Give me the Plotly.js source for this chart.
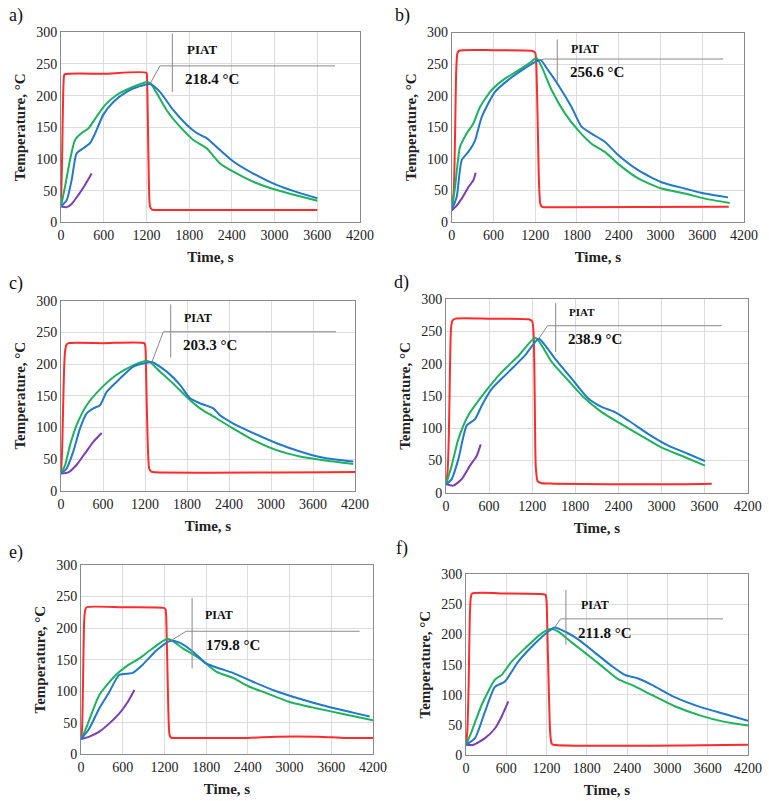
<!DOCTYPE html>
<html>
<head>
<meta charset="utf-8">
<script src="https://cdn.plot.ly/plotly-3.0.1.min.js"></script>
<style>
  html, body { margin: 0; padding: 0; background: #fff; }
  #chart { width: 769px; height: 801px; }
</style>
</head>
<body>
<div id="chart"></div>
<script>
// ---- Temperature histories (time in s, temperature in °C) ----
// Panel a
const aRedT = [0, 15, 30, 40, 48, 600, 1200, 1208, 1220, 1235, 1250, 1280, 1500, 3600];
const aRedY = [25, 100, 200, 229, 233.5, 234.5, 236, 228, 160, 60, 25, 20, 19.5, 19.5];
const aGreenT = [0, 56, 126, 197, 290, 384, 501, 618, 782, 1016, 1210, 1260, 1344, 1484, 1671, 1859, 2046, 2233, 2421, 2701, 3029, 3357, 3600];
const aGreenY = [25, 56, 98, 130, 141, 148, 167, 185, 201, 214, 221.5, 219, 204, 177, 151, 130, 117, 93, 80, 64, 51, 41, 34];
const aBlueT = [0, 80, 150, 220, 314, 407, 478, 595, 735, 922, 1110, 1250, 1390, 1578, 1765, 1906, 2046, 2233, 2421, 2701, 3029, 3357, 3600];
const aBlueY = [25, 35, 67, 109, 117, 125, 140, 170, 190, 206, 215, 218.4, 206, 177, 154, 141, 133, 114, 96, 77, 59, 46, 38];
const aPurpleT = [0, 80, 150, 243, 337, 431];
const aPurpleY = [25, 24, 29, 43, 59, 77];

// Panel b
const bRedT = [0, 30, 50, 65, 80, 100, 600, 1150, 1200, 1215, 1235, 1255, 1275, 1300, 1500, 3980];
const bRedY = [18, 50, 150, 240, 266, 271, 272, 271, 268, 250, 160, 60, 28, 24, 23.5, 24];
const bGreenT = [0, 48, 120, 215, 311, 407, 574, 765, 957, 1148, 1215, 1292, 1435, 1627, 1818, 2009, 2200, 2392, 2679, 3014, 3349, 3636, 3995];
const bGreenY = [18, 55, 119, 140, 156, 182, 209, 227, 240, 254, 260, 246, 209, 172, 145, 124, 111, 92, 69, 53, 45, 37, 30];
const bBlueT = [0, 72, 144, 239, 335, 431, 622, 813, 1005, 1196, 1275, 1387, 1531, 1722, 1866, 2009, 2200, 2392, 2679, 3014, 3349, 3636, 3971];
const bBlueY = [18, 40, 98, 111, 129, 166, 206, 225, 240, 253, 256.6, 240, 217, 182, 151, 140, 127, 106, 82, 63, 53, 45, 39];
const bPurpleT = [0, 72, 144, 239, 311, 344];
const bPurpleY = [18, 26, 37, 55, 66, 78];

// Panel c
const cRedT = [0, 15, 30, 45, 60, 80, 110, 600, 1190, 1205, 1215, 1235, 1260, 1290, 1350, 4200];
const cRedY = [27, 60, 130, 195, 222, 231, 233, 233, 233, 228, 190, 90, 35, 30, 29, 29.5];
const cGreenT = [0, 57, 129, 224, 367, 557, 795, 1033, 1240, 1414, 1605, 1795, 1986, 2224, 2462, 2748, 3081, 3414, 3748, 4176];
const cGreenY = [27, 40, 72, 104, 135, 160, 183, 198, 205, 188, 169, 148, 130, 114, 98, 80, 64, 54, 48, 42];
const cBlueT = [0, 81, 176, 271, 367, 462, 557, 652, 843, 1033, 1224, 1300, 1510, 1700, 1843, 1986, 2176, 2271, 2462, 2748, 3081, 3414, 3748, 4176];
const cBlueY = [27, 35, 62, 98, 122, 130, 135, 156, 177, 196, 202, 203.3, 188, 167, 146, 138, 130, 119, 106, 91, 75, 62, 52, 46];
const cPurpleT = [0, 105, 224, 343, 462, 581];
const cPurpleY = [27, 29, 41, 59, 77, 91];

// Panel d
const dRedT = [0, 20, 40, 55, 70, 90, 130, 600, 1150, 1200, 1220, 1235, 1250, 1275, 1320, 1500, 3000, 3700];
const dRedY = [13, 30, 90, 190, 255, 267, 270, 270, 269, 266, 245, 150, 40, 18, 15, 14, 13, 14];
const dGreenT = [0, 79, 172, 311, 543, 775, 1007, 1245, 1471, 1703, 1935, 2167, 2399, 2678, 3003, 3328, 3606];
const dGreenY = [13, 42, 83, 120, 156, 187, 212, 240, 203, 174, 146, 125, 109, 91, 70, 55, 42];
const dBlueT = [0, 79, 172, 288, 404, 497, 636, 868, 1100, 1290, 1378, 1517, 1749, 1981, 2167, 2353, 2539, 2817, 3096, 3374, 3606];
const dBlueY = [13, 21, 52, 104, 114, 135, 161, 187, 213, 238.9, 229, 208, 177, 146, 133, 125, 112, 91, 73, 60, 49];
const dPurpleT = [0, 102, 218, 334, 427, 483];
const dPurpleY = [13, 11, 21, 42, 57, 75];

// Panel e
const eRedT = [0, 15, 30, 45, 60, 80, 600, 1190, 1215, 1230, 1250, 1275, 1300, 1400, 2400, 2800, 3400, 3800, 4200];
const eRedY = [24, 40, 120, 210, 228, 233, 233, 232, 230, 200, 100, 30, 26, 26, 26, 28, 28, 26, 26];
const eGreenT = [0, 72, 264, 504, 648, 840, 1032, 1250, 1464, 1704, 1944, 2184, 2424, 2664, 2999, 3384, 3768, 4200];
const eGreenY = [24, 41, 94, 126, 139, 152, 168, 183, 168, 152, 131, 121, 107, 97, 83, 73, 64, 54];
const eBlueT = [0, 120, 264, 408, 552, 744, 888, 1080, 1290, 1416, 1608, 1800, 1992, 2184, 2472, 2808, 3144, 3528, 3912, 4152];
const eBlueY = [24, 41, 73, 99, 126, 129, 142, 164, 179.8, 177, 163, 144, 136, 129, 115, 100, 88, 76, 66, 60];
const ePurpleT = [0, 120, 264, 408, 552, 672, 768];
const ePurpleY = [24, 28, 36, 49, 65, 83, 102];

// Panel f
const fRedT = [0, 20, 40, 55, 70, 90, 600, 1150, 1185, 1200, 1215, 1235, 1255, 1275, 1300, 4200];
const fRedY = [17, 40, 120, 220, 260, 268, 268, 267, 266, 255, 190, 100, 35, 19, 17, 17];
const fGreenT = [0, 84, 233, 431, 531, 679, 878, 1126, 1270, 1374, 1572, 1770, 2018, 2266, 2514, 2762, 3109, 3506, 3853, 4200];
const fGreenY = [17, 39, 83, 125, 133, 155, 177, 202, 209, 205, 187, 170, 148, 126, 114, 100, 81, 65, 55, 49];
const fBlueT = [0, 134, 283, 431, 580, 778, 1027, 1225, 1320, 1473, 1671, 1919, 2167, 2365, 2564, 2762, 3109, 3506, 3853, 4200];
const fBlueY = [17, 28, 72, 113, 122, 155, 185, 205, 211.8, 205, 192, 170, 148, 133, 127, 117, 96, 79, 68, 57];
const fPurpleT = [0, 109, 283, 431, 531, 630];
const fPurpleY = [17, 17, 28, 44, 64, 89];

// Axis ticks
const timeTicks = [0, 600, 1200, 1800, 2400, 3000, 3600, 4200];
const tempTicks = [0, 50, 100, 150, 200, 250, 300];
const panelLabels = ['a)', 'b)', 'c)', 'd)', 'e)', 'f)'];

// ---- Panel layout ----
const W = 769, H = 801;
const series = {
  a: [aRedT, aRedY, aGreenT, aGreenY, aBlueT, aBlueY, aPurpleT, aPurpleY],
  b: [bRedT, bRedY, bGreenT, bGreenY, bBlueT, bBlueY, bPurpleT, bPurpleY],
  c: [cRedT, cRedY, cGreenT, cGreenY, cBlueT, cBlueY, cPurpleT, cPurpleY],
  d: [dRedT, dRedY, dGreenT, dGreenY, dBlueT, dBlueY, dPurpleT, dPurpleY],
  e: [eRedT, eRedY, eGreenT, eGreenY, eBlueT, eBlueY, ePurpleT, ePurpleY],
  f: [fRedT, fRedY, fGreenT, fGreenY, fBlueT, fBlueY, fPurpleT, fPurpleY]
};
// plot frame in pixels: left, right, top, bottom
const frames = [
  [61, 360, 32.3, 222.3],
  [451.7, 744, 32.5, 222],
  [61, 355, 300.7, 490.7],
  [446, 747.7, 299.3, 492.7],
  [81, 373, 565, 754.3],
  [466, 748, 574.3, 755]
];
const labelPos = [[7, 15.5], [393, 15.5], [7, 283.5], [392, 282.5], [7, 552.5], [394, 548.5]];
// callout geometry in data units
const callouts = [
  { vx: 1564, vy0: 206, vy1: 298, hy: 247, hx0: 1390, hx1: 3849, px: 1976, py: 273, ps: 13, tx: 1718, ty: 226 },
  { vx: 1517, vy0: 222, vy1: 289, hy: 258, hx0: 1330, hx1: 3899, px: 1914, py: 274, ps: 12, tx: 1665, ty: 238 },
  { vx: 1567, vy0: 210, vy1: 294, hy: 251, hx0: 1462, hx1: 3929, px: 1962, py: 272, ps: 12, tx: 1714, ty: 230 },
  { vx: 1527, vy0: 218, vy1: 294, hy: 259, hx0: 1415, hx1: 3838, px: 1889, py: 281, ps: 11, tx: 1671, ty: 238 },
  { vx: 1598, vy0: 136, vy1: 248, hy: 195, hx0: 1512, hx1: 4008, px: 1992, py: 221, ps: 12, tx: 1762, ty: 174 },
  { vx: 1488, vy0: 183, vy1: 274, hy: 226, hx0: 1408, hx1: 3828, px: 1919, py: 249, ps: 12, tx: 1632, ty: 203 }
];

const COLORS = { red: '#ff2b2b', green: '#1db35c', blue: '#2079cc', purple: '#7d3db5' };
const SERIF = '"Liberation Serif", "DejaVu Serif", serif';

const traces = [];
const layout = {
  width: W, height: H,
  margin: { l: 0, r: 0, t: 0, b: 0 },
  paper_bgcolor: '#fff', plot_bgcolor: '#fff',
  font: { family: SERIF, color: '#222' },
  showlegend: false,
  shapes: [], annotations: []
};

Object.keys(series).forEach((key, i) => {
  const [rt, ry, gt, gy, bt, by, pt, py] = series[key];
  const n = i + 1;
  const xa = 'x' + (n === 1 ? '' : n), ya = 'y' + (n === 1 ? '' : n);
  const line = (x, y, color) => ({
    x, y, xaxis: xa, yaxis: ya, type: 'scatter', mode: 'lines', hoverinfo: 'skip',
    line: { color, width: 2, shape: 'spline', smoothing: 0.6 }
  });
  traces.push(line(rt, ry, COLORS.red));
  traces.push(line(pt, py, COLORS.purple));
  traces.push(line(gt, gy, COLORS.green));
  traces.push(line(bt, by, COLORS.blue));

  const [l, r, t, b] = frames[i];
  const axCommon = {
    showline: true, mirror: true, linecolor: '#8a8a8a', linewidth: 1,
    showgrid: true, gridcolor: '#dcdcdc', gridwidth: 1, zeroline: false,
    ticks: '', tickfont: { family: SERIF, size: 14, color: '#222' },
    fixedrange: true
  };
  layout['xaxis' + (n === 1 ? '' : n)] = Object.assign({}, axCommon, {
    domain: [l / W, r / W], anchor: ya, range: [0, 4200],
    tickvals: timeTicks, ticktext: timeTicks.map(String),
    title: { text: '<b>Time, s</b>', font: { family: SERIF, size: 15, color: '#222' }, standoff: 9 }
  });
  layout['yaxis' + (n === 1 ? '' : n)] = Object.assign({}, axCommon, {
    domain: [1 - b / H, 1 - t / H], anchor: xa, range: [0, 300],
    tickvals: tempTicks, ticktext: tempTicks.map(String),
    title: { text: '<b>Temperature, °C</b>', font: { family: SERIF, size: 15, color: '#222' }, standoff: 6 }
  });

  // PIAT callout: pointer to the peak of the blue curve
  let k = 0;
  by.forEach((v, j) => { if (v > by[k]) k = j; });
  const peakT = bt[k], peakY = by[k];
  const c = callouts[i];
  const ln = { color: '#8a8a8a', width: 1 };
  layout.shapes.push({ type: 'line', xref: xa, yref: ya, x0: c.vx, x1: c.vx, y0: c.vy0, y1: c.vy1, line: ln });
  layout.shapes.push({ type: 'line', xref: xa, yref: ya, x0: c.hx0, x1: c.hx1, y0: c.hy, y1: c.hy, line: ln });
  layout.shapes.push({ type: 'line', xref: xa, yref: ya, x0: peakT, x1: c.hx0, y0: peakY, y1: c.hy, line: ln });
  layout.annotations.push({
    xref: xa, yref: ya, x: c.px, y: c.py, text: '<b>PIAT</b>', showarrow: false,
    xanchor: 'center', yanchor: 'middle', font: { family: SERIF, size: c.ps, color: '#111' }
  });
  layout.annotations.push({
    xref: xa, yref: ya, x: c.tx, y: c.ty, text: '<b>' + peakY.toFixed(1) + ' °C</b>', showarrow: false,
    xanchor: 'left', yanchor: 'middle', font: { family: SERIF, size: 15, color: '#111' }
  });
  layout.annotations.push({
    xref: 'paper', yref: 'paper', x: labelPos[i][0] / W, y: 1 - labelPos[i][1] / H,
    text: panelLabels[i], showarrow: false, xanchor: 'left', yanchor: 'middle',
    font: { family: SERIF, size: 18, color: '#111' }
  });
});

Plotly.newPlot('chart', traces, layout, { staticPlot: true, displayModeBar: false });
</script>
</body>
</html>
